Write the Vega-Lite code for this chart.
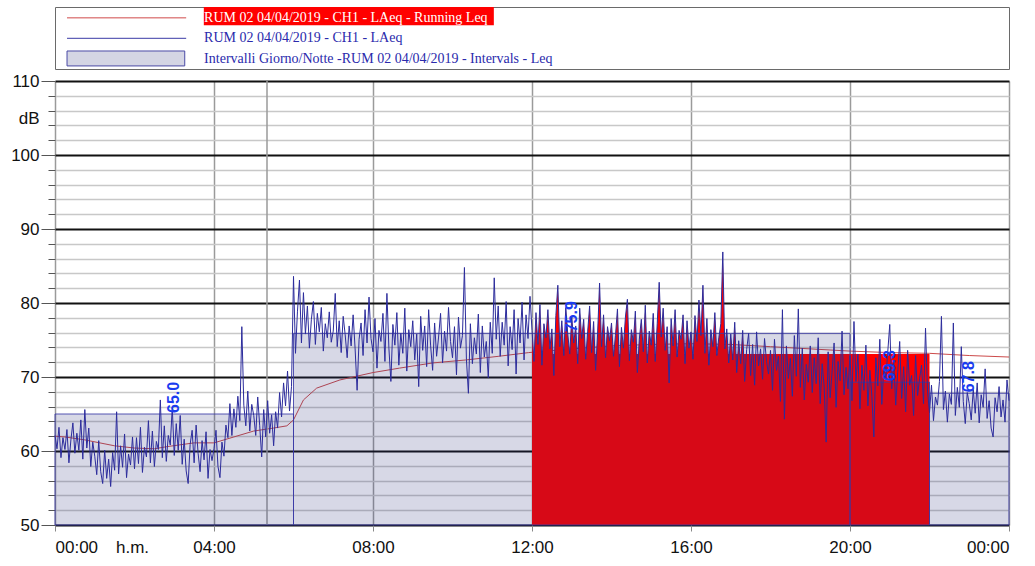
{
  "$schema": "https://vega.github.io/schema/vega-lite/v6.json",
  "padding": {"left": 10, "top": 6, "right": 5, "bottom": 5},
  "background": "white",
  "spacing": 2,
  "config": {"font": "Liberation Sans", "view": {"stroke": null}},
  "datasets": {
    "legend": [
      {"row": 1, "label": "RUM 02 04/04/2019 - CH1 - LAeq - Running Leq"},
      {"row": 2, "label": "RUM 02 04/04/2019 - CH1 - LAeq"},
      {"row": 3, "label": "Intervalli Giorno/Notte -RUM 02 04/04/2019 - Intervals - Leq"}
    ],
    "intervals": [
      {"start": 0, "end": 360, "mid": 180, "leq": 65.0},
      {"start": 360, "end": 1200, "mid": 780, "leq": 75.9},
      {"start": 1200, "end": 1320, "mid": 1260, "leq": 69.3},
      {"start": 1320, "end": 1440, "mid": 1380, "leq": 67.8}
    ],
    "selection": [{"start": 720, "end": 1320, "level": 73.1}],
    "marker": [{"t": 320}],
    "running": [
      {"t": 0, "v": 62.0}, {"t": 15, "v": 61.9}, {"t": 45, "v": 61.5}, {"t": 90, "v": 60.7}, {"t": 120, "v": 60.4},
      {"t": 150, "v": 60.3}, {"t": 170, "v": 60.6}, {"t": 210, "v": 61.1}, {"t": 240, "v": 61.1}, {"t": 270, "v": 61.9},
      {"t": 300, "v": 62.7}, {"t": 330, "v": 63.1}, {"t": 350, "v": 63.4}, {"t": 360, "v": 64.2}, {"t": 375, "v": 66.9},
      {"t": 395, "v": 68.5}, {"t": 430, "v": 69.6}, {"t": 480, "v": 70.6}, {"t": 520, "v": 71.2}, {"t": 570, "v": 71.9},
      {"t": 620, "v": 72.3}, {"t": 670, "v": 72.8}, {"t": 715, "v": 73.3}, {"t": 780, "v": 73.8}, {"t": 840, "v": 74.2},
      {"t": 900, "v": 74.4}, {"t": 960, "v": 74.5}, {"t": 1020, "v": 74.4}, {"t": 1080, "v": 74.1}, {"t": 1140, "v": 73.8},
      {"t": 1200, "v": 73.5}, {"t": 1260, "v": 73.3}, {"t": 1320, "v": 73.2}, {"t": 1380, "v": 72.9}, {"t": 1440, "v": 72.7}
    ],
    "laeq": [
      {"t":0,"v":62.1},{"t":3,"v":60.3},{"t":6,"v":63.2},{"t":9,"v":59.1},{"t":12,"v":61.8},{"t":15,"v":60.2},{"t":18,"v":62.9},{"t":21,"v":58.4},{"t":24,"v":61.5},{"t":27,"v":63.8},
      {"t":30,"v":59.7},{"t":33,"v":62.4},{"t":36,"v":60.1},{"t":39,"v":64.2},{"t":42,"v":58.9},{"t":45,"v":65.6},{"t":48,"v":60.4},{"t":51,"v":63.1},{"t":54,"v":57.9},{"t":57,"v":61.2},
      {"t":60,"v":59.3},{"t":63,"v":56.8},{"t":66,"v":61.4},{"t":69,"v":57.2},{"t":72,"v":55.6},{"t":75,"v":60.1},{"t":78,"v":56.3},{"t":81,"v":58.9},{"t":84,"v":55.2},{"t":87,"v":59.8},
      {"t":90,"v":57.4},{"t":93,"v":65.3},{"t":96,"v":56.9},{"t":99,"v":60.7},{"t":102,"v":57.8},{"t":105,"v":62.3},{"t":108,"v":56.4},{"t":111,"v":59.6},{"t":114,"v":58.1},{"t":117,"v":61.9},
      {"t":120,"v":57.6},{"t":123,"v":61.8},{"t":126,"v":58.3},{"t":129,"v":63.2},{"t":132,"v":57.1},{"t":135,"v":60.5},{"t":138,"v":59.2},{"t":141,"v":64.1},{"t":144,"v":58.4},{"t":147,"v":62.7},
      {"t":150,"v":57.9},{"t":153,"v":61.3},{"t":156,"v":60.2},{"t":159,"v":66.9},{"t":162,"v":59.1},{"t":165,"v":63.4},{"t":168,"v":58.6},{"t":171,"v":62.1},{"t":174,"v":60.8},{"t":177,"v":65.9},
      {"t":180,"v":59.4},{"t":183,"v":63.7},{"t":186,"v":60.1},{"t":189,"v":64.8},{"t":192,"v":58.2},{"t":195,"v":61.6},{"t":198,"v":57.3},{"t":201,"v":55.6},{"t":204,"v":60.9},{"t":207,"v":62.8},
      {"t":210,"v":58.4},{"t":213,"v":63.5},{"t":216,"v":59.7},{"t":219,"v":57.2},{"t":222,"v":61.4},{"t":225,"v":58.8},{"t":228,"v":62.6},{"t":231,"v":56.3},{"t":234,"v":60.2},{"t":237,"v":58.7},
      {"t":240,"v":60.3},{"t":243,"v":62.8},{"t":246,"v":57.9},{"t":249,"v":56.4},{"t":252,"v":61.2},{"t":255,"v":59.3},{"t":258,"v":63.5},{"t":261,"v":61.8},{"t":264,"v":66.4},{"t":267,"v":62.1},
      {"t":270,"v":65.7},{"t":273,"v":63.2},{"t":276,"v":67.4},{"t":279,"v":64.1},{"t":282,"v":76.8},{"t":285,"v":66.2},{"t":288,"v":63.4},{"t":291,"v":68.1},{"t":294,"v":62.7},{"t":297,"v":66.3},
      {"t":300,"v":64.8},{"t":303,"v":62.1},{"t":306,"v":67.3},{"t":309,"v":63.4},{"t":312,"v":59.2},{"t":315,"v":65.6},{"t":318,"v":61.9},{"t":321,"v":66.8},{"t":324,"v":62.4},{"t":327,"v":64.9},
      {"t":330,"v":60.7},{"t":333,"v":65.3},{"t":336,"v":63.1},{"t":339,"v":67.9},{"t":342,"v":64.6},{"t":345,"v":69.2},{"t":348,"v":66.1},{"t":351,"v":70.8},{"t":354,"v":65.4},{"t":357,"v":68.7},
      {"t":360,"v":83.6},{"t":363,"v":73.2},{"t":366,"v":78.9},{"t":369,"v":83.1},{"t":372,"v":74.6},{"t":375,"v":81.4},{"t":378,"v":75.8},{"t":381,"v":79.6},{"t":384,"v":73.9},{"t":387,"v":77.8},
      {"t":390,"v":80.2},{"t":393,"v":74.4},{"t":396,"v":78.6},{"t":399,"v":76.1},{"t":402,"v":79.4},{"t":405,"v":73.5},{"t":408,"v":77.2},{"t":411,"v":75.3},{"t":414,"v":78.8},{"t":417,"v":74.7},
      {"t":420,"v":76.2},{"t":423,"v":81.3},{"t":426,"v":74.1},{"t":429,"v":77.6},{"t":432,"v":73.3},{"t":435,"v":78.2},{"t":438,"v":75.7},{"t":441,"v":72.6},{"t":444,"v":76.9},{"t":447,"v":74.2},
      {"t":450,"v":78.4},{"t":453,"v":73.8},{"t":456,"v":68.2},{"t":459,"v":75.1},{"t":462,"v":77.3},{"t":465,"v":72.9},{"t":468,"v":79.1},{"t":471,"v":74.6},{"t":474,"v":80.8},{"t":477,"v":75.2},
      {"t":480,"v":73.4},{"t":483,"v":77.9},{"t":486,"v":71.2},{"t":489,"v":76.3},{"t":492,"v":74.8},{"t":495,"v":78.6},{"t":498,"v":72.1},{"t":501,"v":81.3},{"t":504,"v":73.9},{"t":507,"v":69.4},
      {"t":510,"v":77.1},{"t":513,"v":74.3},{"t":516,"v":78.7},{"t":519,"v":71.6},{"t":522,"v":75.9},{"t":525,"v":73.2},{"t":528,"v":79.3},{"t":531,"v":70.8},{"t":534,"v":76.4},{"t":537,"v":74.1},
      {"t":540,"v":77.6},{"t":543,"v":72.3},{"t":546,"v":75.8},{"t":549,"v":68.7},{"t":552,"v":78.2},{"t":555,"v":73.6},{"t":558,"v":76.9},{"t":561,"v":71.4},{"t":564,"v":79.1},{"t":567,"v":74.2},
      {"t":570,"v":70.9},{"t":573,"v":77.3},{"t":576,"v":72.8},{"t":579,"v":75.4},{"t":582,"v":78.6},{"t":585,"v":71.9},{"t":588,"v":76.2},{"t":591,"v":73.5},{"t":594,"v":79.4},{"t":597,"v":74.8},
      {"t":600,"v":72.6},{"t":603,"v":76.8},{"t":606,"v":70.3},{"t":609,"v":78.1},{"t":612,"v":73.9},{"t":615,"v":75.6},{"t":618,"v":84.8},{"t":621,"v":72.4},{"t":624,"v":67.8},{"t":627,"v":77.2},
      {"t":630,"v":71.8},{"t":633,"v":75.3},{"t":636,"v":73.1},{"t":639,"v":78.5},{"t":642,"v":70.6},{"t":645,"v":76.9},{"t":648,"v":72.7},{"t":651,"v":74.8},{"t":654,"v":69.9},{"t":657,"v":77.4},
      {"t":660,"v":73.2},{"t":663,"v":83.4},{"t":666,"v":75.1},{"t":669,"v":79.6},{"t":672,"v":72.8},{"t":675,"v":77.4},{"t":678,"v":74.3},{"t":681,"v":80.2},{"t":684,"v":71.5},{"t":687,"v":76.8},
      {"t":690,"v":73.7},{"t":693,"v":79.1},{"t":696,"v":70.4},{"t":699,"v":77.9},{"t":702,"v":74.6},{"t":705,"v":80.1},{"t":708,"v":72.3},{"t":711,"v":78.4},{"t":714,"v":75.2},{"t":717,"v":80.9},
      {"t":720,"v":76.3},{"t":723,"v":72.1},{"t":726,"v":78.7},{"t":729,"v":74.4},{"t":732,"v":79.8},{"t":735,"v":71.6},{"t":738,"v":77.2},{"t":741,"v":75.3},{"t":744,"v":79.1},{"t":747,"v":73.8},
      {"t":750,"v":76.5},{"t":753,"v":70.2},{"t":756,"v":78.3},{"t":759,"v":82.4},{"t":762,"v":74.1},{"t":765,"v":77.6},{"t":768,"v":72.9},{"t":771,"v":79.4},{"t":774,"v":75.8},{"t":777,"v":73.1},
      {"t":780,"v":78.2},{"t":783,"v":74.6},{"t":786,"v":76.9},{"t":789,"v":71.8},{"t":792,"v":79.3},{"t":795,"v":75.2},{"t":798,"v":77.8},{"t":801,"v":72.4},{"t":804,"v":76.1},{"t":807,"v":79.6},
      {"t":810,"v":73.3},{"t":813,"v":77.5},{"t":816,"v":70.9},{"t":819,"v":75.8},{"t":822,"v":82.7},{"t":825,"v":74.1},{"t":828,"v":78.4},{"t":831,"v":72.6},{"t":834,"v":76.8},{"t":837,"v":74.9},
      {"t":840,"v":77.3},{"t":843,"v":72.8},{"t":846,"v":75.6},{"t":849,"v":79.2},{"t":852,"v":71.4},{"t":855,"v":76.7},{"t":858,"v":73.9},{"t":861,"v":78.1},{"t":864,"v":80.5},{"t":867,"v":72.2},
      {"t":870,"v":76.4},{"t":873,"v":74.7},{"t":876,"v":78.9},{"t":879,"v":70.6},{"t":882,"v":75.1},{"t":885,"v":77.8},{"t":888,"v":73.4},{"t":891,"v":79.7},{"t":894,"v":71.9},{"t":897,"v":76.2},
      {"t":900,"v":74.3},{"t":903,"v":78.6},{"t":906,"v":72.1},{"t":909,"v":77.2},{"t":912,"v":82.8},{"t":915,"v":75.4},{"t":918,"v":79.3},{"t":921,"v":73.6},{"t":924,"v":76.8},{"t":927,"v":69.2},
      {"t":930,"v":77.9},{"t":933,"v":74.2},{"t":936,"v":79.1},{"t":939,"v":72.7},{"t":942,"v":76.3},{"t":945,"v":75.1},{"t":948,"v":78.4},{"t":951,"v":71.8},{"t":954,"v":77.6},{"t":957,"v":73.9},
      {"t":960,"v":76.1},{"t":963,"v":72.4},{"t":966,"v":78.3},{"t":969,"v":74.8},{"t":972,"v":80.4},{"t":975,"v":75.6},{"t":978,"v":82.4},{"t":981,"v":73.2},{"t":984,"v":77.9},{"t":987,"v":71.6},
      {"t":990,"v":76.4},{"t":993,"v":74.1},{"t":996,"v":78.7},{"t":999,"v":72.9},{"t":1002,"v":75.3},{"t":1005,"v":77.2},{"t":1008,"v":86.9},{"t":1011,"v":73.8},{"t":1014,"v":76.5},{"t":1017,"v":71.9},
      {"t":1020,"v":75.8},{"t":1023,"v":72.3},{"t":1026,"v":77.4},{"t":1029,"v":70.6},{"t":1032,"v":74.9},{"t":1035,"v":71.8},{"t":1038,"v":76.3},{"t":1041,"v":69.4},{"t":1044,"v":73.7},{"t":1047,"v":75.9},
      {"t":1050,"v":70.2},{"t":1053,"v":74.4},{"t":1056,"v":68.9},{"t":1059,"v":76.1},{"t":1062,"v":71.5},{"t":1065,"v":73.8},{"t":1068,"v":69.7},{"t":1071,"v":75.2},{"t":1074,"v":72.1},{"t":1077,"v":70.4},
      {"t":1080,"v":73.6},{"t":1083,"v":68.2},{"t":1086,"v":75.1},{"t":1089,"v":70.9},{"t":1092,"v":72.8},{"t":1095,"v":66.7},{"t":1098,"v":79.1},{"t":1101,"v":64.3},{"t":1104,"v":74.2},{"t":1107,"v":69.8},
      {"t":1110,"v":72.5},{"t":1113,"v":67.4},{"t":1116,"v":75.6},{"t":1119,"v":70.1},{"t":1122,"v":79.2},{"t":1125,"v":68.6},{"t":1128,"v":73.9},{"t":1131,"v":66.9},{"t":1134,"v":71.7},{"t":1137,"v":69.3},
      {"t":1140,"v":74.2},{"t":1143,"v":67.9},{"t":1146,"v":72.6},{"t":1149,"v":69.1},{"t":1152,"v":75.3},{"t":1155,"v":66.4},{"t":1158,"v":71.8},{"t":1161,"v":68.7},{"t":1164,"v":61.2},{"t":1167,"v":73.4},
      {"t":1170,"v":67.2},{"t":1173,"v":70.8},{"t":1176,"v":74.6},{"t":1179,"v":65.9},{"t":1182,"v":72.1},{"t":1185,"v":69.5},{"t":1188,"v":76.2},{"t":1191,"v":67.6},{"t":1194,"v":71.3},{"t":1197,"v":68.4},
      {"t":1200,"v":72.9},{"t":1203,"v":66.8},{"t":1206,"v":77.5},{"t":1209,"v":69.4},{"t":1212,"v":73.1},{"t":1215,"v":65.7},{"t":1218,"v":71.6},{"t":1221,"v":68.2},{"t":1224,"v":74.3},{"t":1227,"v":66.1},
      {"t":1230,"v":70.9},{"t":1233,"v":67.4},{"t":1236,"v":61.9},{"t":1239,"v":72.6},{"t":1242,"v":68.8},{"t":1245,"v":75.1},{"t":1248,"v":66.3},{"t":1251,"v":71.2},{"t":1254,"v":69.7},{"t":1257,"v":73.4},
      {"t":1260,"v":77.1},{"t":1263,"v":68.4},{"t":1266,"v":72.3},{"t":1269,"v":66.2},{"t":1272,"v":70.6},{"t":1275,"v":74.8},{"t":1278,"v":67.1},{"t":1281,"v":71.4},{"t":1284,"v":65.3},{"t":1287,"v":73.6},
      {"t":1290,"v":68.9},{"t":1293,"v":70.2},{"t":1296,"v":64.8},{"t":1299,"v":72.9},{"t":1302,"v":67.5},{"t":1305,"v":69.8},{"t":1308,"v":71.6},{"t":1311,"v":66.4},{"t":1314,"v":76.6},{"t":1317,"v":68.1},
      {"t":1320,"v":65.2},{"t":1323,"v":68.9},{"t":1326,"v":64.1},{"t":1329,"v":67.3},{"t":1332,"v":66.2},{"t":1335,"v":69.4},{"t":1338,"v":78.2},{"t":1341,"v":65.6},{"t":1344,"v":68.1},{"t":1347,"v":63.9},
      {"t":1350,"v":67.7},{"t":1353,"v":66.3},{"t":1356,"v":77.3},{"t":1359,"v":64.8},{"t":1362,"v":68.6},{"t":1365,"v":65.9},{"t":1368,"v":74.1},{"t":1371,"v":66.7},{"t":1374,"v":63.7},{"t":1377,"v":67.9},
      {"t":1380,"v":66.4},{"t":1383,"v":64.2},{"t":1386,"v":68.3},{"t":1389,"v":65.1},{"t":1392,"v":69.2},{"t":1395,"v":63.8},{"t":1398,"v":67.6},{"t":1401,"v":65.9},{"t":1404,"v":71.1},{"t":1407,"v":64.4},
      {"t":1410,"v":66.8},{"t":1413,"v":63.1},{"t":1416,"v":61.9},{"t":1419,"v":67.2},{"t":1422,"v":65.3},{"t":1425,"v":68.7},{"t":1428,"v":64.6},{"t":1431,"v":66.9},{"t":1434,"v":63.9},{"t":1437,"v":69.6},
      {"t":1440,"v":66.8}
    ]
  },
  "vconcat": [
    {
      "width": 954,
      "height": 62,
      "view": {"stroke": "#6a6a6a", "strokeWidth": 1},
      "data": {"name": "legend"},
      "layer": [
        {
          "transform": [{"filter": "datum.row == 1"}],
          "mark": {"type": "rect", "color": "#ff0000"},
          "encoding": {
            "x": {"datum": 15.6, "type": "quantitative", "scale": {"domain": [0, 100], "nice": false, "zero": false}, "axis": null},
            "x2": {"datum": 46.0},
            "y": {"datum": 0.47, "type": "quantitative", "scale": {"domain": [0.47, 3.5], "reverse": true, "nice": false, "zero": false}, "axis": null},
            "y2": {"datum": 1.36}
          }
        },
        {
          "transform": [{"filter": "datum.row < 3"}],
          "mark": {"type": "rule", "strokeWidth": 1},
          "encoding": {
            "x": {"datum": 1.26, "type": "quantitative"},
            "x2": {"datum": 13.75},
            "y": {"field": "row", "type": "quantitative"},
            "color": {"condition": {"test": "datum.row == 1", "value": "#d04a4a"}, "value": "#3a3aa6"}
          }
        },
        {
          "transform": [{"filter": "datum.row == 3"}],
          "mark": {"type": "rect", "fill": "#2a2f7a", "fillOpacity": 0.2, "stroke": "#4a4aa6", "strokeWidth": 1},
          "encoding": {
            "x": {"datum": 1.26, "type": "quantitative"},
            "x2": {"datum": 13.6},
            "y": {"datum": 2.62, "type": "quantitative"},
            "y2": {"datum": 3.35}
          }
        },
        {
          "mark": {"type": "text", "font": "Liberation Serif", "fontSize": 14, "align": "left", "baseline": "middle"},
          "encoding": {
            "x": {"datum": 15.63, "type": "quantitative"},
            "y": {"field": "row", "type": "quantitative"},
            "text": {"field": "label"},
            "color": {"condition": {"test": "datum.row == 1", "value": "#ffffff"}, "value": "#2a2aac"}
          }
        }
      ]
    },
    {
      "width": 954,
      "height": 444,
      "layer": [
        {
          "data": {"name": "running"},
          "mark": {"type": "line", "color": "#cc4a4a", "strokeWidth": 1},
          "encoding": {
            "x": {
              "field": "t", "type": "quantitative",
              "scale": {"domain": [0, 1440], "nice": false, "zero": false},
              "axis": {
                "values": [0, 240, 480, 720, 960, 1200, 1440],
                "tickCount": 100,
                "labelExpr": "(floor(datum.value / 60) % 24 < 10 ? '0' : '') + (floor(datum.value / 60) % 24) + ':00'",
                "grid": true, "gridColor": "#9a9a9a", "gridWidth": 1.5,
                "tickSize": 6, "tickColor": "#888888", "domain": false,
                "labelFontSize": 17, "labelColor": "#111111", "labelPadding": 8,
                "labelFont": "Liberation Sans",
                "title": "h.m.", "titleFontSize": 17, "titleFontWeight": "normal", "titleColor": "#111111",
                "titleFont": "Liberation Sans",
                "titleX": 77, "titleY": 14, "titleAlign": "center", "titleBaseline": "top"
              }
            },
            "y": {
              "field": "v", "type": "quantitative",
              "scale": {"domain": [50, 110], "nice": false, "zero": false},
              "axis": {
                "values": [50, 52, 54, 56, 58, 60, 62, 64, 66, 68, 70, 72, 74, 76, 78, 80, 82, 84, 86, 88, 90, 92, 94, 96, 98, 100, 102, 104, 106, 108, 110],
                "tickCount": 100,
                "format": "d",
                "labelExpr": "datum.value % 10 === 0 ? datum.label : ''",
                "labelOverlap": false,
                "grid": true,
                "gridColor": {"condition": {"test": "datum.value % 10 === 0", "value": "#111111"}, "value": "#c8c8c8"},
                "gridWidth": {"condition": {"test": "datum.value % 10 === 0", "value": 2}, "value": 1.5},
                "tickSize": {"condition": {"test": "datum.value % 10 === 0", "value": 14}, "value": 7},
                "tickColor": "#555555", "domain": false,
                "labelFontSize": 17, "labelColor": "#111111", "labelPadding": 2, "labelFont": "Liberation Sans",
                "title": "dB", "titleAngle": 0, "titleFontSize": 17, "titleFontWeight": "normal", "titleColor": "#111111",
                "titleFont": "Liberation Sans",
                "titleX": -16, "titleY": 37, "titleAlign": "right", "titleBaseline": "middle"
              }
            }
          }
        },
        {
          "data": {"name": "laeq"},
          "transform": [{"filter": "datum.t >= 720 && datum.t <= 1044"}],
          "mark": {"type": "area", "color": "#ff0000", "opacity": 1},
          "encoding": {
            "x": {"field": "t", "type": "quantitative"},
            "y": {"field": "v", "type": "quantitative"},
            "y2": {"datum": 50}
          }
        },
        {
          "data": {"name": "selection"},
          "mark": {"type": "rect", "color": "#ff0000", "opacity": 1},
          "encoding": {
            "x": {"field": "start", "type": "quantitative"},
            "x2": {"field": "end"},
            "y": {"field": "level", "type": "quantitative"},
            "y2": {"datum": 50}
          }
        },
        {
          "data": {"name": "marker"},
          "mark": {"type": "rule", "color": "#9a9a9a", "strokeWidth": 1.5},
          "encoding": {"x": {"field": "t", "type": "quantitative"}}
        },
        {
          "data": {"name": "intervals"},
          "mark": {"type": "rect", "fill": "#2a2f7a", "fillOpacity": 0.19, "stroke": "#3a3aa6", "strokeWidth": 1, "strokeOpacity": 0.85},
          "encoding": {
            "x": {"field": "start", "type": "quantitative"},
            "x2": {"field": "end"},
            "y": {"field": "leq", "type": "quantitative"},
            "y2": {"datum": 50}
          }
        },
        {
          "data": {"name": "laeq"},
          "mark": {"type": "line", "color": "#2c2c9c", "strokeWidth": 1},
          "encoding": {
            "x": {"field": "t", "type": "quantitative"},
            "y": {"field": "v", "type": "quantitative"}
          }
        },
        {
          "data": {"name": "intervals"},
          "mark": {"type": "text", "angle": 270, "align": "left", "baseline": "middle", "fontSize": 16, "fontWeight": "bold", "color": "#1a3cf0", "dx": 1, "font": "Liberation Sans"},
          "encoding": {
            "x": {"field": "mid", "type": "quantitative"},
            "y": {"field": "leq", "type": "quantitative"},
            "text": {"field": "leq", "type": "quantitative", "format": ".1f"}
          }
        }
      ]
    }
  ]
}
